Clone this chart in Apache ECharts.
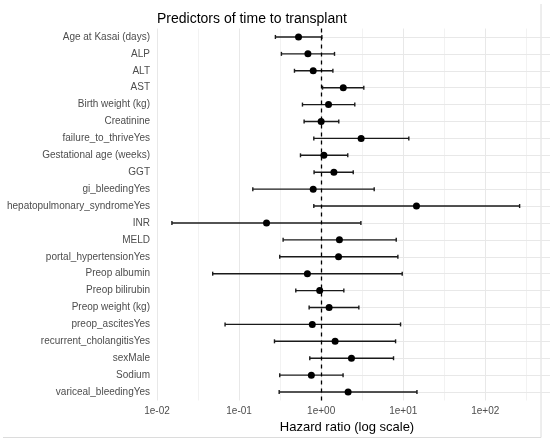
<!DOCTYPE html>
<html>
<head>
<meta charset="utf-8">
<script src="https://cdn.jsdelivr.net/npm/echarts@6/dist/echarts.min.js"></script>
<style>
  html, body { margin: 0; padding: 0; background: #fff; }
  #chart { width: 550px; height: 441px; }
</style>
</head>
<body>
<div id="chart"></div>
<script>
const predictors = [
    'Age at Kasai (days)', 'ALP', 'ALT', 'AST', 'Birth weight (kg)', 'Creatinine',
    'failure_to_thriveYes', 'Gestational age (weeks)', 'GGT', 'gi_bleedingYes',
    'hepatopulmonary_syndromeYes', 'INR', 'MELD', 'portal_hypertensionYes',
    'Preop albumin', 'Preop bilirubin', 'Preop weight (kg)', 'preop_ascitesYes',
    'recurrent_cholangitisYes', 'sexMale', 'Sodium', 'variceal_bleedingYes',
];
// hazard ratio and 95% CI
const hazardRatio = [0.53, 0.69, 0.80, 1.86, 1.23, 1.00, 3.07, 1.08, 1.43, 0.80, 14.5,
    0.216, 1.67, 1.63, 0.68, 0.96, 1.25, 0.78, 1.48, 2.34, 0.76, 2.13];
const lowerCI = [0.277, 0.328, 0.473, 1.04, 0.592, 0.62, 0.814, 0.56, 0.82, 0.147, 0.814,
    0.0152, 0.344, 0.313, 0.0477, 0.491, 0.714, 0.0675, 0.27, 0.727, 0.313, 0.308];
const upperCI = [1.02, 1.455, 1.39, 3.31, 2.57, 1.64, 11.7, 2.11, 2.46, 4.43, 262,
    3.05, 8.22, 8.61, 9.72, 1.89, 2.88, 9.28, 8.07, 7.62, 1.85, 14.7];

const font = '"Liberation Sans", Arial, sans-serif';
const chart = echarts.init(document.getElementById('chart'));

// x axis carries log10 of the hazard ratio
const expLabel = (v) => {
    if (!Number.isInteger(v)) return '';
    return `1e${v < 0 ? '-' : '+'}${String(Math.abs(v)).padStart(2, '0')}`;
};

// major / minor grid colours, the last (panel edge) line hidden
const gridColors = [];
for (let i = 0; i < 10; i++) gridColors.push(i % 2 === 0 ? '#e8e8e8' : '#f2f2f2');
gridColors.push('rgba(0,0,0,0)');

chart.setOption({
    animation: false,
    textStyle: { fontFamily: font },
    title: {
        text: 'Predictors of time to transplant',
        left: 152,
        top: 7,
        textStyle: { fontSize: 14, fontWeight: 'normal', color: '#000', fontFamily: font },
    },
    grid: { left: 157, right: 13, top: 28.5, bottom: 40.5 },
    xAxis: {
        type: 'value',
        min: -2,
        max: 2.63,
        interval: 0.5,
        name: 'Hazard ratio (log scale)',
        nameLocation: 'middle',
        nameGap: 16,
        nameTextStyle: { fontSize: 13, color: '#000', fontFamily: font },
        axisLine: { show: false },
        axisTick: { show: false },
        axisLabel: {
            formatter: expLabel, fontSize: 10, color: '#4d4d4d', margin: 6,
            showMaxLabel: false, fontFamily: font,
        },
        splitLine: {
            show: true,
            lineStyle: { color: gridColors, width: 1 },
        },
    },
    yAxis: {
        type: 'category',
        inverse: true,
        data: predictors,
        axisLine: { show: false },
        // ticks stretched across the panel act as the horizontal grid lines
        axisTick: {
            show: true, alignWithLabel: true, inside: true, length: 380,
            lineStyle: { color: '#e8e8e8', width: 1 },
        },
        axisLabel: { fontSize: 10, color: '#4d4d4d', margin: 7, fontFamily: font },
        splitLine: { show: false },
    },
    series: [
        {
            type: 'custom',
            z: 3,
            encode: { x: [1, 2], y: 0 },
            data: predictors.map((_, i) => [i, Math.log10(lowerCI[i]), Math.log10(upperCI[i])]),
            renderItem: (params, api) => {
                const a = api.coord([api.value(1), api.value(0)]);
                const b = api.coord([api.value(2), api.value(0)]);
                const h = 2;
                const style = { stroke: '#1a1a1a', lineWidth: 1.4 };
                return {
                    type: 'group',
                    children: [
                        { type: 'line', shape: { x1: a[0], y1: a[1], x2: b[0], y2: b[1] }, style },
                        { type: 'line', shape: { x1: a[0], y1: a[1] - h, x2: a[0], y2: a[1] + h }, style },
                        { type: 'line', shape: { x1: b[0], y1: b[1] - h, x2: b[0], y2: b[1] + h }, style },
                    ],
                };
            },
        },
        {
            type: 'scatter',
            z: 5,
            symbolSize: 7,
            itemStyle: { color: '#000', opacity: 1 },
            data: predictors.map((_, i) => [Math.log10(hazardRatio[i]), i]),
            markLine: {
                silent: true,
                symbol: 'none',
                label: { show: false },
                lineStyle: { type: [4, 4], color: '#000', width: 1.3 },
                data: [{ xAxis: 0 }],
            },
        },
    ],
    graphic: [
        { type: 'line', shape: { x1: 541, y1: 4, x2: 541, y2: 437.5 }, style: { stroke: '#dcdcdc', lineWidth: 1 } },
        { type: 'line', shape: { x1: 3, y1: 437.5, x2: 541, y2: 437.5 }, style: { stroke: '#dcdcdc', lineWidth: 1 } },
    ],
});
</script>
</body>
</html>
